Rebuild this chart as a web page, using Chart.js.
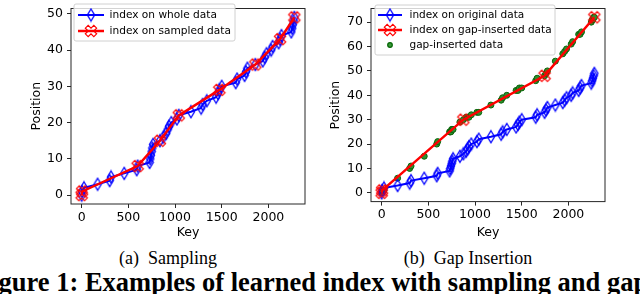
<!DOCTYPE html>
<html>
<head>
<meta charset="utf-8">
<script src="https://cdn.jsdelivr.net/npm/chart.js@4.4.1/dist/chart.umd.min.js"></script>
<style>
  body { margin: 0; background: #fff; width: 640px; height: 294px; overflow: hidden; position: relative; }
  .box { position: absolute; top: 0; width: 320px; height: 246px; }
  .cap { position: absolute; top: 249px; line-height: 18px; font-family: "Liberation Serif", "DejaVu Serif", serif; font-size: 18px; white-space: nowrap; transform: translateX(-50%); }
  #fig { position: absolute; top: 271px; line-height: 23px; font-family: "Liberation Serif", "DejaVu Serif", serif; font-weight: bold; font-size: 23px; white-space: nowrap; }
</style>
</head>
<body>
<div class="box" style="left:0"><canvas id="chartA" width="320" height="246"></canvas></div>
<div class="box" style="left:320px"><canvas id="chartB" width="320" height="246"></canvas></div>
<div class="cap" style="left:168px">(a)&#8194;Sampling</div>
<div class="cap" style="left:468px">(b)&#8194;Gap Insertion</div>
<div id="fig"><span id="figPre">Figure 1: </span><span id="figMid">Examples of learned index with sampling and</span><span> gap insertion.</span></div>

<script>
// keys of the original data, and their positions
const keys = [0, 5, 25, 171, 300, 315, 456, 590, 600, 728,
              735, 742, 750, 757, 765, 838, 875, 905, 920, 935,
              960, 1020, 1040, 1170, 1280, 1295, 1340, 1440, 1460, 1475,
              1500, 1650, 1665, 1745, 1760, 1775, 1860, 1940, 1960, 1980,
              2030, 2045, 2110, 2125, 2140, 2245, 2255, 2262, 2270, 2278];
const positions = [0, 1, 2, 3, 4, 5, 6, 7, 8, 9,
                   10, 11, 12, 13, 14, 15, 16, 17, 18, 19,
                   20, 21, 22, 23, 24, 25, 26, 27, 28, 29,
                   30, 31, 32, 33, 34, 35, 36, 37, 38, 39,
                   40, 41, 42, 43, 44, 45, 46, 47, 48, 49];

// (a) index on sampled data
const sampledKeys = [0, 5, 600, 838, 1040, 1475, 1860, 2125, 2278];
const sampledPos = [0, 1, 8, 15, 22, 29, 36, 43, 49];

// (b) index on gap-inserted data, and gap-inserted positions of every key
const gapIndexKeys = [0, 5, 875, 1745, 2278];
const gapIndexPos = [0, 1, 30, 48, 72];
const gapDataPos = [0, 1, 1, 6, 10, 11, 15, 20, 21, 25,
                    25, 25, 26, 26, 26, 29, 30, 31, 31, 31,
                    32, 33, 33, 36, 38, 39, 40, 42, 42, 43,
                    43, 46, 47, 48, 49, 50, 54, 57, 58, 59,
                    61, 62, 65, 65, 66, 70, 71, 71, 72, 72];

const xTicks = [0, 500, 1000, 1500, 2000];
const yTicksA = [0, 10, 20, 30, 40, 50];
const yTicksB = [0, 10, 20, 30, 40, 50, 60, 70];

const pts = (xs, ys) => xs.map((x, i) => ({ x: x, y: ys[i] }));

function diamondImg(color) {
  const c = document.createElement('canvas');
  c.width = 10; c.height = 15;
  const g = c.getContext('2d');
  g.strokeStyle = color; g.lineWidth = 1.3;
  g.beginPath();
  g.moveTo(5, 1.5); g.lineTo(8.6, 7.5); g.lineTo(5, 13.5); g.lineTo(1.4, 7.5);
  g.closePath(); g.stroke();
  return c;
}

function xImg(color) {
  const c = document.createElement('canvas');
  c.width = 16; c.height = 16;
  const g = c.getContext('2d');
  g.translate(8, 8); g.rotate(Math.PI / 4);
  const L = 6, a = 2;
  g.beginPath();
  g.moveTo(a, -L); g.lineTo(a, -a); g.lineTo(L, -a); g.lineTo(L, a); g.lineTo(a, a); g.lineTo(a, L);
  g.lineTo(-a, L); g.lineTo(-a, a); g.lineTo(-L, a); g.lineTo(-L, -a); g.lineTo(-a, -a); g.lineTo(-a, -L);
  g.closePath();
  g.strokeStyle = color; g.lineWidth = 1.2; g.stroke();
  return c;
}

const blueMark = diamondImg('#0000ff');
const redMark = xImg('#ff0000');

const framePlugin = {
  id: 'frame',
  afterDatasetsDraw(chart) {
    const a = chart.chartArea, ctx = chart.ctx;
    ctx.save();
    ctx.strokeStyle = '#262626'; ctx.lineWidth = 1;
    ctx.strokeRect(a.left, a.top, a.right - a.left, a.bottom - a.top);
    ctx.restore();
  }
};

function legendPlugin(box, items, fontSize) {
  return {
    id: 'boxLegend',
    afterDatasetsDraw(chart) {
      const ctx = chart.ctx;
      ctx.save();
      const r = 2, x = box.x, y = box.y, w = box.w, h = box.h;
      ctx.beginPath();
      ctx.moveTo(x + r, y); ctx.arcTo(x + w, y, x + w, y + h, r); ctx.arcTo(x + w, y + h, x, y + h, r);
      ctx.arcTo(x, y + h, x, y, r); ctx.arcTo(x, y, x + w, y, r); ctx.closePath();
      ctx.fillStyle = 'rgba(255,255,255,0.8)'; ctx.fill();
      ctx.strokeStyle = '#d0d0d0'; ctx.lineWidth = 1; ctx.stroke();
      items.forEach((it, i) => {
        const yy = box.rowY + i * box.dy;
        if (it.lw) {
          ctx.strokeStyle = it.color; ctx.lineWidth = it.lw;
          ctx.beginPath(); ctx.moveTo(box.lx0, yy); ctx.lineTo(box.lx1, yy); ctx.stroke();
        }
        if (it.img) {
          ctx.drawImage(it.img, box.mx - it.img.width / 2, yy - it.img.height / 2);
        } else {
          ctx.beginPath(); ctx.arc(box.mx, yy, 2.3, 0, Math.PI * 2);
          ctx.fillStyle = '#3c9a3c'; ctx.fill();
          ctx.strokeStyle = '#006400'; ctx.lineWidth = 1.2; ctx.stroke();
        }
        ctx.fillStyle = '#000';
        ctx.font = fontSize + 'px "DejaVu Sans"';
        ctx.textBaseline = 'middle';
        ctx.fillText(it.label, box.tx, yy);
      });
      ctx.restore();
    }
  };
}

const tickFont = { family: 'DejaVu Sans', size: 12.5 };

function makeOptions(cfg) {
  return {
    responsive: false,
    animation: false,
    events: [],
    layout: { padding: { left: 0, right: cfg.padRight, top: cfg.top, bottom: 0 } },
    plugins: { legend: { display: false }, tooltip: { enabled: false } },
    scales: {
      x: {
        type: 'linear', min: -114, max: 2392,
        afterBuildTicks: s => { s.ticks = xTicks.map(v => ({ value: v })); },
        afterFit: s => { s.height = 246 - cfg.bottom; s.paddingLeft = 0; s.paddingRight = 0; },
        grid: { drawOnChartArea: false, drawTicks: true, tickLength: 4, color: '#262626', lineWidth: 1 },
        border: { display: false },
        ticks: { color: '#000', font: tickFont, padding: 2, maxRotation: 0, autoSkip: false, callback: v => String(v) },
        title: { display: true, text: 'Key', color: '#000', font: tickFont, padding: { top: 0, bottom: 5.5 } }
      },
      y: {
        type: 'linear', min: cfg.ymin, max: cfg.ymax,
        afterBuildTicks: s => { s.ticks = cfg.yTicks.map(v => ({ value: v })); },
        afterFit: s => { s.width = cfg.left; s.paddingTop = 0; s.paddingBottom = 0; },
        grid: { drawOnChartArea: false, drawTicks: true, tickLength: 4, color: '#262626', lineWidth: 1 },
        border: { display: false },
        ticks: { color: '#000', font: tickFont, padding: 4, autoSkip: false, callback: v => String(v) },
        title: { display: true, text: 'Position', color: '#000', font: tickFont, padding: { top: cfg.titlePad, bottom: 0 } }
      }
    }
  };
}

new Chart(document.getElementById('chartA'), {
  type: 'scatter',
  data: {
    datasets: [
      {
        label: 'index on sampled data', data: pts(sampledKeys, sampledPos), order: 0,
        showLine: true, borderColor: '#ff0000', borderWidth: 2.5, tension: 0,
        pointStyle: redMark, pointRadius: 6
      },
      {
        label: 'index on whole data', data: pts(keys, positions), order: 1,
        showLine: true, borderColor: '#0000ff', borderWidth: 2, tension: 0,
        pointStyle: blueMark, pointRadius: 6
      }
    ]
  },
  options: makeOptions({ padRight: 15, top: 1.3, bottom: 204, left: 71, ymin: -2.45, ymax: 51.45, yTicks: yTicksA, titlePad: 29.6 }),
  plugins: [framePlugin, legendPlugin(
    { x: 74, y: 4, w: 161, h: 37, rowY: 15, dy: 16, lx0: 78, lx1: 104, mx: 91, tx: 109.5 },
    [
      { label: 'index on whole data', color: '#0000ff', lw: 2, img: blueMark },
      { label: 'index on sampled data', color: '#ff0000', lw: 2.5, img: redMark }
    ], 10.6)]
});

new Chart(document.getElementById('chartB'), {
  type: 'scatter',
  data: {
    datasets: [
      {
        label: 'index on gap-inserted data', data: pts(gapIndexKeys, gapIndexPos), order: 0,
        showLine: true, borderColor: '#ff0000', borderWidth: 2.5, tension: 0,
        pointStyle: redMark, pointRadius: 6
      },
      {
        label: 'index on original data', data: pts(keys, positions), order: 1,
        showLine: true, borderColor: '#0000ff', borderWidth: 2, tension: 0,
        pointStyle: blueMark, pointRadius: 6
      },
      {
        label: 'gap-inserted data', data: pts(keys, gapDataPos), order: 2,
        showLine: false, pointStyle: 'circle', pointRadius: 3,
        backgroundColor: '#2f8f2f', borderColor: '#0a640a', borderWidth: 1
      }
    ]
  },
  options: makeOptions({ padRight: 35, top: 2, bottom: 201.6, left: 51, ymin: -3.6, ymax: 75.6, yTicks: yTicksB, titlePad: 8.6 }),
  plugins: [framePlugin, legendPlugin(
    { x: 55, y: 5, w: 180, h: 50, rowY: 15, dy: 15, lx0: 58, lx1: 82, mx: 70, tx: 89.5 },
    [
      { label: 'index on original data', color: '#0000ff', lw: 2, img: blueMark },
      { label: 'index on gap-inserted data', color: '#ff0000', lw: 2.5, img: redMark },
      { label: 'gap-inserted data', color: '#008000', lw: 0, img: null }
    ], 10.5)]
});

// bottom figure caption is cropped: "Examples" starts near x=85, "and" ends near x=600
const fig = document.getElementById('fig');
const mid = document.getElementById('figMid');
const scale = 515 / mid.offsetWidth;
fig.style.fontSize = (23 * scale).toFixed(2) + 'px';
fig.style.left = (85 - document.getElementById('figPre').offsetWidth) + 'px';
</script>
</body>
</html>
